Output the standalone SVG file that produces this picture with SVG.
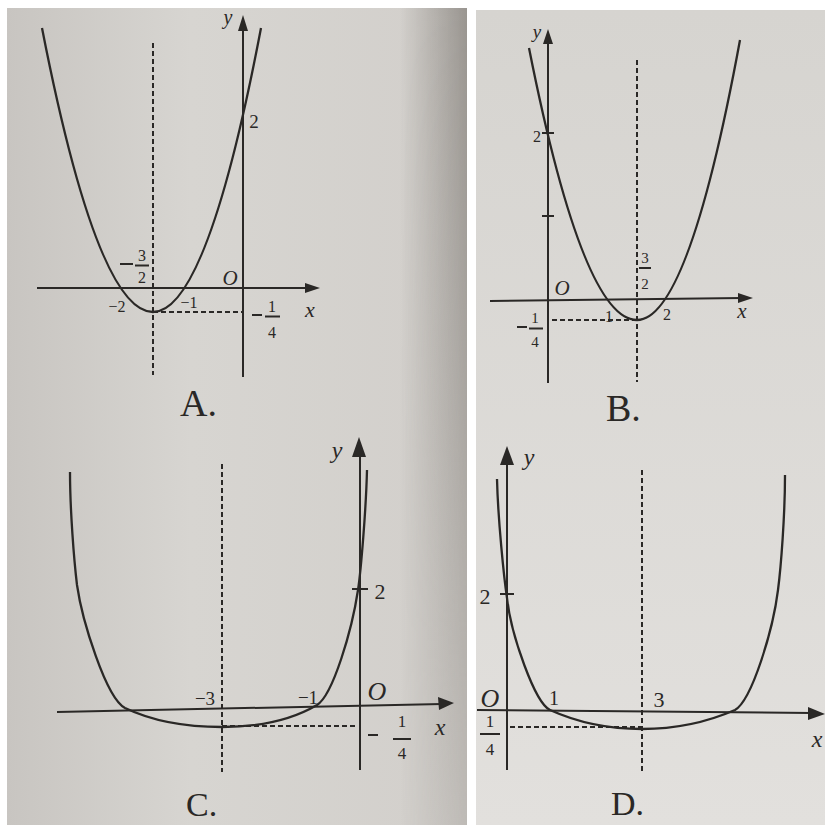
<svg xmlns="http://www.w3.org/2000/svg" width="825" height="825" viewBox="0 0 825 825">
<defs>
<style>
.ax{stroke:#2a2826;stroke-width:2;fill:none}
.cv{stroke:#2a2826;stroke-width:2.3;fill:none}
.ds{stroke:#2a2826;stroke-width:2;stroke-dasharray:5 3;fill:none}
.ah{fill:#2a2826}
.t{font-family:"Liberation Serif","Times New Roman",serif;fill:#2a2826}
.i{font-style:italic}
.m{text-anchor:middle}
</style>
<linearGradient id="edge" x1="400" y1="0" x2="467" y2="0" gradientUnits="userSpaceOnUse">
<stop offset="0" stop-color="#6a655f" stop-opacity="0"/>
<stop offset="1" stop-color="#6a655f" stop-opacity="0.55"/>
</linearGradient>
<linearGradient id="fade" x1="0" y1="8" x2="0" y2="825" gradientUnits="userSpaceOnUse">
<stop offset="0" stop-color="#fff" stop-opacity="1"/>
<stop offset="0.5" stop-color="#fff" stop-opacity="0.7"/>
<stop offset="1" stop-color="#fff" stop-opacity="0.35"/>
</linearGradient>
<mask id="vm" maskUnits="userSpaceOnUse" x="0" y="0" width="825" height="825">
<rect x="0" y="8" width="825" height="817" fill="url(#fade)"/>
</mask>
<linearGradient id="lg" x1="0" y1="0" x2="1" y2="0">
<stop offset="0" stop-color="#c8c5c1"/>
<stop offset="0.4" stop-color="#d7d5d1"/>
<stop offset="1" stop-color="#d2cfcb"/>
</linearGradient>
<linearGradient id="rg" x1="0" y1="0" x2="0" y2="1">
<stop offset="0" stop-color="#d6d4d0"/>
<stop offset="1" stop-color="#e2e0dd"/>
</linearGradient>
</defs>
<rect width="825" height="825" fill="#ffffff"/>
<rect x="7" y="8" width="460" height="817" fill="url(#lg)"/>
<rect x="400" y="8" width="67" height="817" fill="url(#edge)" mask="url(#vm)"/>
<rect x="476" y="10" width="349" height="815" fill="url(#rg)"/>

<g id="panelA">
<line class="ax" x1="243" y1="377" x2="243" y2="28"/>
<polygon class="ah" points="243,15 238,31 248,31"/>
<line class="ax" x1="37" y1="288" x2="308" y2="288"/>
<polygon class="ah" points="320,288 305,283 305,293"/>
<line class="ds" x1="153" y1="43" x2="153" y2="375"/>
<line class="ds" x1="153" y1="312" x2="243" y2="312"/>
<path class="cv" d="M42,28 Q97.5,312 153,312 Q207,312 261,28"/>
<text class="t i m" x="228" y="24" font-size="20">y</text>
<text class="t m" x="254" y="128" font-size="19">2</text>
<line class="ax" x1="120" y1="264" x2="133" y2="264" stroke-width="1.3"/>
<text class="t m" x="142" y="261" font-size="16">3</text>
<line class="ax" x1="135" y1="265.5" x2="149" y2="265.5" stroke-width="1.3"/>
<text class="t m" x="142" y="283" font-size="16">2</text>
<text class="t i m" x="230" y="285" font-size="21">O</text>
<text class="t m" x="117" y="312" font-size="16">−2</text>
<text class="t m" x="189" y="308" font-size="16">−1</text>
<text class="t i m" x="310" y="317" font-size="22">x</text>
<line class="ax" x1="252" y1="315" x2="262" y2="315" stroke-width="1.3"/>
<text class="t m" x="272" y="312" font-size="16">1</text>
<line class="ax" x1="265" y1="316.5" x2="280" y2="316.5" stroke-width="1.3"/>
<text class="t m" x="272" y="338" font-size="16">4</text>
<text class="t" x="180" y="416" font-size="38">A.</text>
</g>

<g id="panelB">
<line class="ax" x1="548" y1="383" x2="548" y2="42"/>
<polygon class="ah" points="548,29 543,44 553,44"/>
<line class="ax" x1="490" y1="301" x2="742" y2="298"/>
<polygon class="ah" points="753,298 738,293 738,303"/>
<line class="ax" x1="542" y1="133" x2="554" y2="133"/>
<line class="ax" x1="542" y1="216" x2="554" y2="216"/>
<line class="ds" x1="637" y1="60" x2="637" y2="382"/>
<line class="ds" x1="552" y1="320" x2="637" y2="320"/>
<path class="cv" d="M529,48 Q583,320 637,320 Q688.5,320 740,40"/>
<text class="t i m" x="537" y="38" font-size="19">y</text>
<text class="t m" x="537" y="142" font-size="16">2</text>
<text class="t i m" x="562" y="295" font-size="21">O</text>
<text class="t m" x="645" y="263" font-size="15">3</text>
<line class="ax" x1="639" y1="268" x2="651" y2="268" stroke-width="1.3"/>
<text class="t m" x="645" y="289" font-size="15">2</text>
<text class="t m" x="609" y="322" font-size="16">1</text>
<text class="t m" x="667" y="320" font-size="16">2</text>
<text class="t i m" x="742" y="318" font-size="21">x</text>
<line class="ax" x1="517" y1="327" x2="527" y2="327" stroke-width="1.3"/>
<text class="t m" x="535" y="323" font-size="15">1</text>
<line class="ax" x1="529" y1="328.5" x2="543" y2="328.5" stroke-width="1.3"/>
<text class="t m" x="535" y="347" font-size="15">4</text>
<text class="t" x="606" y="421" font-size="38">B.</text>
</g>

<g id="panelC">
<line class="ax" x1="360" y1="770" x2="360" y2="452"/>
<polygon class="ah" points="359,437 352,457 366,457"/>
<line class="ax" x1="57" y1="712" x2="442" y2="704"/>
<polygon class="ah" points="454,703 438,697 439,710"/>
<line class="ax" x1="352" y1="589" x2="368" y2="589"/>
<line class="ds" x1="222" y1="464" x2="222" y2="772"/>
<line class="ds" x1="222" y1="726" x2="358" y2="726"/>
<path class="cv" d="M70,472 C70,510 74,560 77,585 C82,620 106,698 125,708 C150,720 182,727 222,727 C262,727 295,718 317,705 C333,695 352,630 358,590 C361,570 366,510 367,470"/>
<text class="t i m" x="337" y="458" font-size="24">y</text>
<text class="t m" x="380" y="599" font-size="22">2</text>
<text class="t m" x="205" y="705" font-size="19">−3</text>
<text class="t m" x="308" y="704" font-size="19">−1</text>
<text class="t i m" x="377" y="700" font-size="26">O</text>
<line class="ax" x1="368" y1="735" x2="378" y2="735" stroke-width="1.4"/>
<text class="t m" x="402" y="727" font-size="17">1</text>
<line class="ax" x1="393" y1="739" x2="411" y2="739" stroke-width="1.4"/>
<text class="t m" x="402" y="759" font-size="17">4</text>
<text class="t i m" x="440" y="735" font-size="24">x</text>
<text class="t" x="186" y="816" font-size="34">C.</text>
</g>

<g id="panelD">
<line class="ax" x1="507" y1="770" x2="507" y2="460"/>
<polygon class="ah" points="507,446 500,465 514,465"/>
<line class="ax" x1="477" y1="710" x2="812" y2="713"/>
<polygon class="ah" points="825,714 808,707 808,720"/>
<line class="ax" x1="500" y1="594" x2="514" y2="594"/>
<line class="ds" x1="642" y1="470" x2="642" y2="774"/>
<line class="ds" x1="510" y1="727" x2="642" y2="727"/>
<path class="cv" d="M497,479 C498,520 504,578 507,598 C511,635 535,703 550,710 C572,720 602,729 642,729 C682,729 712,720 735,710 C752,700 773,630 778,590 C781,567 785,515 785,475"/>
<text class="t i m" x="529" y="465" font-size="24">y</text>
<text class="t m" x="485" y="604" font-size="22">2</text>
<text class="t i m" x="490" y="707" font-size="26">O</text>
<text class="t m" x="554" y="705" font-size="20">1</text>
<text class="t m" x="659" y="707" font-size="22">3</text>
<text class="t m" x="490" y="727" font-size="17">1</text>
<line class="ax" x1="480" y1="734" x2="500" y2="734" stroke-width="1.4"/>
<text class="t m" x="490" y="755" font-size="17">4</text>
<text class="t i m" x="817" y="747" font-size="24">x</text>
<text class="t" x="611" y="815" font-size="34">D.</text>
</g>
</svg>
